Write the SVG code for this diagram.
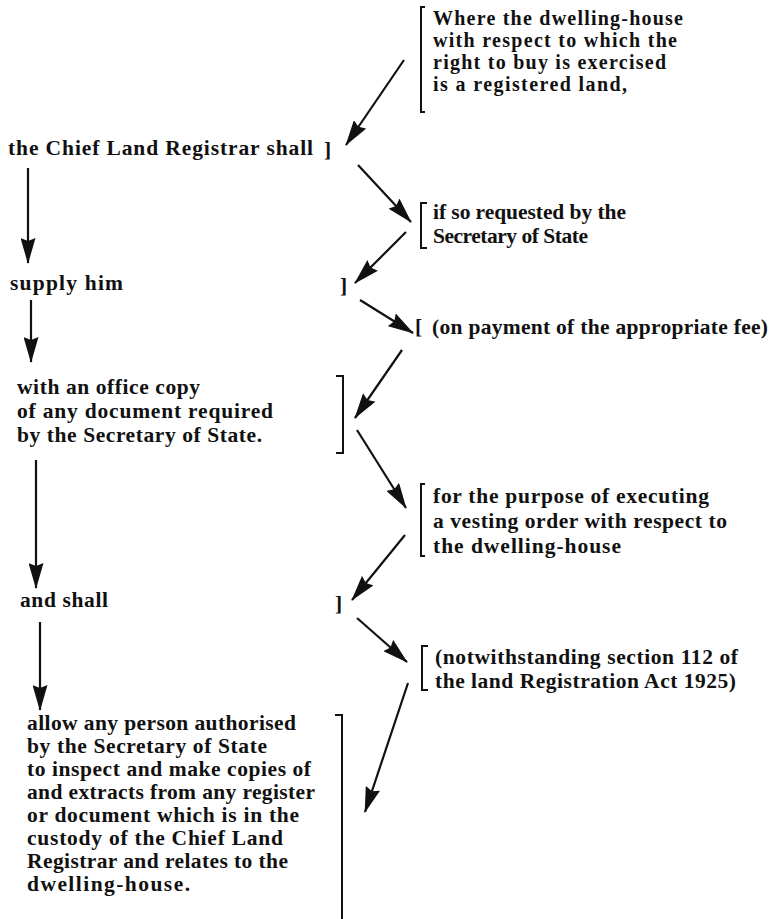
<svg xmlns="http://www.w3.org/2000/svg" width="773" height="919" viewBox="0 0 773 919">
<style>
text{font-family:"Liberation Serif","DejaVu Serif",serif;font-weight:bold;font-size:21.5px;fill:#111}
.sm{font-size:20px}
.br{fill:none;stroke:#111;stroke-width:2}
.c{stroke:#111;stroke-width:2.2;fill:none;marker-end:url(#ah)}
</style>
<defs>
<marker id="ah" viewBox="0 0 26 15" refX="25" refY="7.5" markerWidth="26" markerHeight="15" markerUnits="userSpaceOnUse" orient="auto">
<path d="M0,0 L26,7.5 L0,15 L3,7.5 z" fill="#111"/>
</marker>
</defs>
<rect width="773" height="919" fill="#fff"/>

<g id="n-where">
<path class="br" d="M425,7 H421 V112 H425"/>
<text class="sm" x="433" y="25" textLength="250" lengthAdjust="spacing">Where the dwelling-house</text>
<text class="sm" x="433" y="47" textLength="244" lengthAdjust="spacing">with respect to which the</text>
<text class="sm" x="433" y="69" textLength="233" lengthAdjust="spacing">right to buy is exercised</text>
<text class="sm" x="433" y="91" textLength="194" lengthAdjust="spacing">is a registered land,</text>
</g>

<g id="n-chief">
<text x="8" y="155" textLength="305" lengthAdjust="spacing">the Chief Land Registrar shall</text>
<text x="324" y="157">]</text>
</g>

<g id="n-requested">
<path class="br" d="M427,203 H421 V248 H427"/>
<text x="433" y="219" textLength="193" lengthAdjust="spacing">if so requested by the</text>
<text x="433" y="243" textLength="155" lengthAdjust="spacing">Secretary of State</text>
</g>

<g id="n-supply">
<text x="10" y="290" textLength="113" lengthAdjust="spacing">supply him</text>
<text x="340" y="293">]</text>
</g>

<g id="n-payment">
<text x="415" y="334">[</text>
<text x="432" y="334" textLength="336" lengthAdjust="spacing">(on payment of the appropriate fee)</text>
</g>

<g id="n-office">
<text x="17" y="394" textLength="183" lengthAdjust="spacing">with an office copy</text>
<text x="17" y="418" textLength="256" lengthAdjust="spacing">of any document required</text>
<text x="17" y="442" textLength="245" lengthAdjust="spacing">by the Secretary of State.</text>
<path class="br" d="M336,376 H343 V453 H336"/>
</g>

<g id="n-purpose">
<path class="br" d="M425,484 H421 V556 H425"/>
<text x="433" y="503" textLength="276" lengthAdjust="spacing">for the purpose of executing</text>
<text x="433" y="528" textLength="294" lengthAdjust="spacing">a vesting order with respect to</text>
<text x="433" y="553" textLength="188" lengthAdjust="spacing">the dwelling-house</text>
</g>

<g id="n-andshall">
<text x="20" y="607" textLength="88" lengthAdjust="spacing">and shall</text>
<text x="335" y="611">]</text>
</g>

<g id="n-notwith">
<path class="br" d="M428,646 H422 V690 H428"/>
<text x="435" y="664" textLength="303" lengthAdjust="spacing">(notwithstanding section 112 of</text>
<text x="435" y="688" textLength="301" lengthAdjust="spacing">the land Registration Act 1925)</text>
</g>

<g id="n-allow">
<text x="27" y="730" textLength="269" lengthAdjust="spacing">allow any person authorised</text>
<text x="27" y="753" textLength="240" lengthAdjust="spacing">by the Secretary of State</text>
<text x="27" y="776" textLength="284" lengthAdjust="spacing">to inspect and make copies of</text>
<text x="27" y="799" textLength="288" lengthAdjust="spacing">and extracts from any register</text>
<text x="27" y="822" textLength="272" lengthAdjust="spacing">or document which is in the</text>
<text x="27" y="845" textLength="256" lengthAdjust="spacing">custody of the Chief Land</text>
<text x="27" y="868" textLength="261" lengthAdjust="spacing">Registrar and relates to the</text>
<text x="27" y="891" textLength="163" lengthAdjust="spacing">dwelling-house.</text>
<path class="br" d="M335,715 H342 V919"/>
</g>

<g id="connectors">
<line class="c" x1="404" y1="60" x2="346" y2="145"/>
<line class="c" x1="358" y1="165" x2="411" y2="222"/>
<line class="c" x1="406" y1="232" x2="355" y2="283"/>
<line class="c" x1="360" y1="300" x2="413" y2="333"/>
<line class="c" x1="402" y1="350" x2="355" y2="418"/>
<line class="c" x1="357" y1="430" x2="406" y2="508"/>
<line class="c" x1="405" y1="535" x2="352" y2="600"/>
<line class="c" x1="357" y1="618" x2="407" y2="662"/>
<line class="c" x1="408" y1="683" x2="365" y2="812"/>
<line class="c" x1="28" y1="168" x2="28" y2="263"/>
<line class="c" x1="31" y1="300" x2="31" y2="362"/>
<line class="c" x1="36" y1="460" x2="36" y2="588"/>
<line class="c" x1="40" y1="622" x2="40" y2="710"/>
</g>
</svg>
